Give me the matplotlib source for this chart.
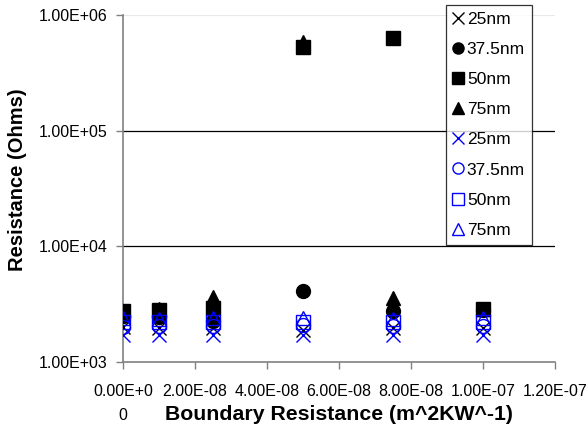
import matplotlib
matplotlib.use("Agg")
import matplotlib.pyplot as plt
from matplotlib.lines import Line2D

plt.rcParams['font.family'] = ['Liberation Sans', 'DejaVu Sans']

# boundary resistance (m^2 K W^-1)
x_vals = [0.0, 1.0e-8, 2.5e-8, 5.0e-8, 7.5e-8, 1.0e-7]

# black series (filled)
blk_25 = [2000, 1950, 1950, 1900, 1950, 1950]
blk_375 = [2500, 2450, 2250, 4150, 2750, 2800]
blk_50 = [2750, 2800, 2950, 530000, 635000, 2900]
blk_75 = [2750, 2900, 3650, 590000, 3600, 2850]

# blue series (open)
blu_25 = [1700, 1700, 1700, 1700, 1700, 1700]
blu_375 = [2000, 2050, 2050, 2100, 2050, 2050]
blu_50 = [2200, 2200, 2200, 2200, 2200, 2200]
blu_75 = [2400, 2350, 2400, 2400, 2350, 2400]

labels = ['25nm', '37.5nm', '50nm', '75nm']

fig = plt.figure(figsize=(5.87, 4.26), dpi=100)
ax = fig.add_axes([123/587, 1 - 362/426, 432/587, 347/426])

ax.set_yscale('log')
ax.set_ylim(1e3, 1e6)
ax.set_xlim(0, 1.2e-7)

for yv in [1e4, 1e5]:
    ax.axhline(yv, color='black', lw=0.9, zorder=1)
ax.axhline(1e6, color='#e8e8e8', lw=0.8, zorder=1)

ax.plot(x_vals, blk_25, ls='none', marker='x', color='black', ms=10, mew=1.0, zorder=3)
ax.plot(x_vals, blk_375, ls='none', marker='o', color='black', ms=10, zorder=3)
ax.plot(x_vals, blk_50, ls='none', marker='s', color='black', ms=10, zorder=3)
ax.plot(x_vals, blk_75, ls='none', marker='^', color='black', ms=10, zorder=3)
ax.plot(x_vals, blu_25, ls='none', marker='x', color='#0000ff', ms=10, mew=1.0, zorder=4)
ax.plot(x_vals, blu_375, ls='none', marker='o', mfc='none', mec='#0000ff', ms=10, mew=1.0, zorder=4)
ax.plot(x_vals, blu_50, ls='none', marker='s', mfc='none', mec='#0000ff', ms=10, mew=1.0, zorder=4)
ax.plot(x_vals, blu_75, ls='none', marker='^', mfc='none', mec='#0000ff', ms=10, mew=1.0, zorder=4)

ax.set_yticks([1e3, 1e4, 1e5, 1e6])
ax.set_yticklabels(['1.00E+03', '1.00E+04', '1.00E+05', '1.00E+06'])
ax.minorticks_off()
xt = [0, 2e-8, 4e-8, 6e-8, 8e-8, 1e-7, 1.2e-7]
ax.set_xticks(xt)
ax.set_xticklabels(['0.00E+0\n0', '2.00E-08', '4.00E-08', '6.00E-08',
                    '8.00E-08', '1.00E-07', '1.20E-07'], va='top', linespacing=1.75)
ax.tick_params(axis='both', labelsize=11.5, direction='out', length=5,
               width=1, color='#808080')
ax.tick_params(axis='x', pad=11)
ax.tick_params(axis='y', pad=6)

for s in ['top', 'right']:
    ax.spines[s].set_visible(False)
for s in ['left', 'bottom']:
    ax.spines[s].set_color('#808080')
    ax.spines[s].set_linewidth(1.2)

ax.set_ylabel('Resistance (Ohms)', fontsize=14.5, fontweight='bold')
ax.yaxis.set_label_coords((18 - 123) / 432, (362 - 180) / 347)
ax.set_xlabel('Boundary Resistance (m^2KW^-1)', fontsize=15.3, fontweight='bold')
ax.xaxis.set_label_coords((339 - 123) / 432, -(415 - 362) / 347)
ax.xaxis.label.set_va('center')
ax.yaxis.label.set_va('center')

handles = []
mk = ['x', 'o', 's', '^']
for m, lab in zip(mk, labels):
    handles.append(Line2D([], [], ls='none', marker=m, color='black', ms=8, label=lab))
for m, lab in zip(mk, labels):
    if m == 'x':
        handles.append(Line2D([], [], ls='none', marker=m, color='#0000ff', ms=8, label=lab))
    else:
        handles.append(Line2D([], [], ls='none', marker=m, mfc='none', mec='#0000ff', ms=8, label=lab))

leg = fig.legend(handles=handles, loc='upper left', bbox_to_anchor=(446/587, 1 - 5/426),
                 fontsize=12.5, frameon=True, fancybox=False, edgecolor='black',
                 handlelength=0.6, handletextpad=0.2, borderpad=0.4,
                 labelspacing=0.86, borderaxespad=0)
leg.get_frame().set_linewidth(0.9)

fig.savefig('out.png', dpi=100)
